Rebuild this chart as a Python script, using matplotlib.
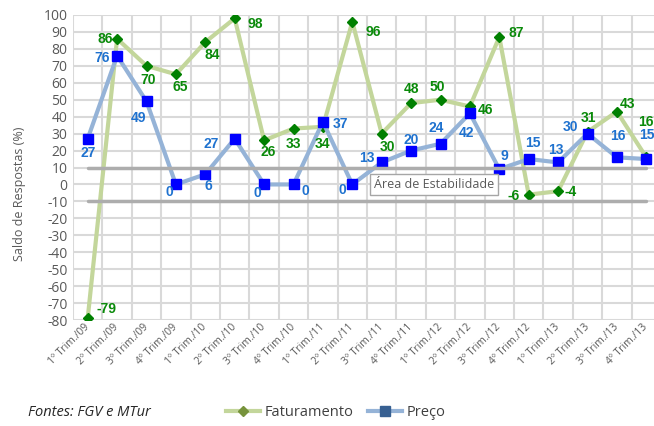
import matplotlib
matplotlib.use("Agg")
import matplotlib.pyplot as plt
from matplotlib.lines import Line2D
from matplotlib.transforms import ScaledTranslation

categories = ["1º Trim./09", "2º Trim./09", "3º Trim./09", "4º Trim./09",
              "1º Trim./10", "2º Trim./10", "3º Trim./10", "4º Trim./10",
              "1º Trim./11", "2º Trim./11", "3º Trim./11", "4º Trim./11",
              "1º Trim./12", "2º Trim./12", "3º Trim./12", "4º Trim./12",
              "1º Trim./13", "2º Trim./13", "3º Trim./13", "4º Trim./13"]
faturamento = [-79, 86, 70, 65, 84, 98, 26, 33, 34, 96, 30, 48, 50, 46, 87, -6, -4, 31, 43, 16]
preco = [27, 76, 49, 0, 6, 27, 0, 0, 37, 0, 13, 20, 24, 42, 9, 15, 13, 30, 16, 15]
stability_band = [-10, 10]
yticks = list(range(-80, 101, 10))

# label offsets in pixels (dx right, dy down)
fat_off = [(19, -9), (-12, 0), (2, 14), (4, 13), (7, 13), (21, 6), (4, 12), (0, 15),
           (0, 17), (21, 10), (6, 13), (0, -14), (-3, -13), (16, 3), (17, -4),
           (-15, 1), (13, 1), (1, -14), (11, -8), (0, -35)]
pre_off = [(0, 14), (-15, 2), (-8, 17), (-7, 8), (3, 12), (-24, 5), (-7, 9), (12, 7),
           (18, 2), (-10, 6), (-15, -4), (0, -11), (-4, -16), (-3, 20), (5, -13),
           (4, -16), (-2, -12), (-17, -7), (1, -21), (1, -24)]

W, H = 654, 426
fig = plt.figure(figsize=(W / 100, H / 100), dpi=100)
ax = fig.add_axes([73 / W, (H - 320) / H, 588 / W, 305 / H])

x = list(range(len(categories)))
grid_c = "#D9D9D9"
for y in yticks:
    ax.axhline(y, color=grid_c, lw=1.5, zorder=0)
for i in range(len(categories) + 1):
    ax.axvline(i - 0.5, color=grid_c, lw=1.5, zorder=0)

ax.plot(x, faturamento, color="#C3D69B", lw=3, marker="D", markersize=5.5,
        markerfacecolor="#008000", markeredgecolor="#008000", zorder=3)
ax.plot(x, preco, color="#95B3D7", lw=3, marker="s", markersize=7,
        markerfacecolor="#0000FF", markeredgecolor="#0000FF", zorder=4)

for yb in stability_band:
    ax.plot([x[0], x[-1]], [yb, yb], color="#ADADAD", lw=2.5, solid_capstyle="round", zorder=5)

for i, v in enumerate(faturamento):
    ax.annotate(str(v), (x[i], v), xytext=(fat_off[i][0], -fat_off[i][1]),
                textcoords="offset pixels", ha="center", va="center",
                color="#0A8A0A", fontsize=10, fontweight="bold",
                family="Liberation Sans", zorder=6)
for i, v in enumerate(preco):
    ax.annotate(str(v), (x[i], v), xytext=(pre_off[i][0], -pre_off[i][1]),
                textcoords="offset pixels", ha="center", va="center",
                color="#1F72CF", fontsize=10, fontweight="bold",
                family="Liberation Sans", zorder=6)

ax.text(11.77, 0, "Área de Estabilidade", ha="center", va="center", fontsize=9,
        color="#595959", family="Open Sans", zorder=7,
        bbox=dict(boxstyle="square,pad=0.3", fc="white", ec="#A6A6A6", lw=1))

ax.set_xlim(-0.5, len(categories) - 0.5)
ax.set_ylim(-80, 100)
ax.set_yticks(yticks)
ax.set_yticklabels([str(t) for t in yticks], fontsize=10, color="#595959", family="Open Sans")
ax.set_xticks(x)
ax.set_xticklabels(categories, rotation=45, ha="right", va="center", rotation_mode="anchor",
                   fontsize=7.5, color="#595959", family="Open Sans")
off = ScaledTranslation(0.03, -0.11, fig.dpi_scale_trans)
for lab in ax.get_xticklabels():
    lab.set_transform(lab.get_transform() + off)
ax.tick_params(length=0, pad=4)
for s in ax.spines.values():
    s.set_visible(False)

fig.text(20 / W, 1 - 194 / H, "Saldo de Respostas (%)", rotation=90, ha="center", va="center",
         fontsize=9, color="#595959", family="Open Sans")
fig.text(28 / W, 1 - 413 / H, "Fontes: FGV e MTur", ha="left", va="center",
         fontsize=10.5, style="italic", color="#262626", family="Open Sans")

handles = [
    Line2D([], [], color="#C3D69B", lw=3, marker="D", markersize=5.5,
           markerfacecolor="#77933C", markeredgecolor="#77933C"),
    Line2D([], [], color="#95B3D7", lw=3, marker="s", markersize=7,
           markerfacecolor="#376092", markeredgecolor="#376092"),
]
leg = fig.legend(handles, ["Faturamento", "Preço"], loc="center",
                 bbox_to_anchor=(336 / W, 1 - 413 / H), ncol=2, frameon=False,
                 handlelength=2.3, columnspacing=1.0, handletextpad=0.35,
                 prop={"family": "Open Sans", "size": 10.5})
for t in leg.get_texts():
    t.set_color("#404040")

fig.savefig("out.png", dpi=100)
